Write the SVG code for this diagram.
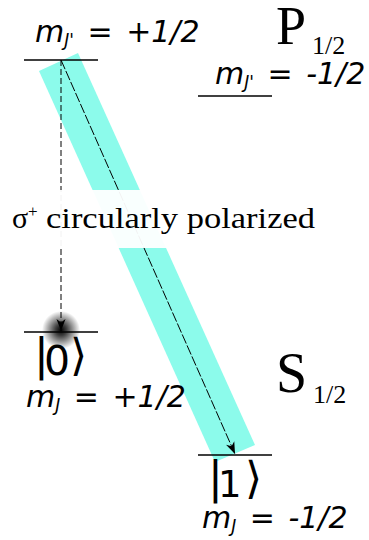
<svg xmlns="http://www.w3.org/2000/svg" width="369" height="540" viewBox="0 0 369 540">
<style>
.lvl{stroke:#000;stroke-width:1.6;fill:none}
.mj{font-family:"DejaVu Sans",Verdana,sans-serif;font-style:italic;font-size:30px;word-spacing:4px;fill:#000;white-space:pre}
.sub{font-size:17px}
.ket{font-family:"DejaVu Sans",sans-serif;fill:#000}
.serif{font-family:"Liberation Serif","Times New Roman",serif;fill:#000}
.dash{stroke:#000;stroke-width:1;fill:none}
</style>
<defs>
<marker id="arr" markerUnits="userSpaceOnUse" markerWidth="16" markerHeight="12" viewBox="-13 -6 14 12" refX="0" refY="0" orient="auto">
<path d="M0,0 L-12,-4.5 L-8.5,0 L-12,4.5 Z" fill="#000"/>
</marker>
<radialGradient id="glow">
<stop offset="0" stop-color="#000" stop-opacity="1"/>
<stop offset="0.3" stop-color="#000" stop-opacity="0.75"/>
<stop offset="1" stop-color="#000" stop-opacity="0"/>
</radialGradient>
</defs>

<g id="laser-beam">
<polygon points="39,71 78,53 255,445 215,462" fill="#8cfbeb"/>
</g>

<g id="connectors">
<line class="dash" x1="61" y1="60" x2="61" y2="331" stroke-dasharray="6,3" marker-end="url(#arr)"/>
<line class="dash" x1="61" y1="60" x2="235" y2="454" stroke-dasharray="10,2" marker-end="url(#arr)"/>
</g>

<g id="label-polarization">
<rect x="0" y="190" width="369" height="58" fill="#fff" fill-opacity="0.95"/>
<text class="serif" x="12" y="228" font-size="30">σ</text>
<text class="serif" x="28" y="217" font-size="17">+</text>
<text class="serif" x="46" y="228" font-size="30" textLength="269" lengthAdjust="spacingAndGlyphs">circularly polarized</text>
</g>

<g id="P-plus">
<line class="lvl" x1="24" y1="60" x2="98" y2="60"/>
<text class="mj" x="35" y="42">m<tspan class="sub" dy="4">J'</tspan><tspan dy="-4"> = +1/2</tspan></text>
</g>

<g id="P-minus">
<line class="lvl" x1="198" y1="96" x2="272" y2="96"/>
<text class="mj" x="215" y="84">m<tspan class="sub" dy="4">J'</tspan><tspan dy="-4"> = -1/2</tspan></text>
</g>

<g id="P-term">
<text class="serif" x="276" y="44" font-size="54">P</text>
<text class="serif" x="312" y="54" font-size="26">1/2</text>
</g>

<g id="S-term">
<text class="serif" x="276" y="392" font-size="56">S</text>
<text class="serif" x="313" y="403" font-size="26">1/2</text>
</g>

<g id="state-0">
<circle cx="61" cy="330" r="19" fill="url(#glow)"/>
<line class="lvl" x1="24" y1="332" x2="98" y2="332"/>
<text class="ket" x="34" y="370" font-size="44">|</text>
<text class="ket" x="44" y="375" font-size="41">0</text>
<text class="ket" x="70" y="370" font-size="44">⟩</text>
<text class="mj" x="26" y="407">m<tspan class="sub" dy="4">J</tspan><tspan dy="-4"> = +1/2</tspan></text>
</g>

<g id="state-1">
<line class="lvl" x1="198" y1="455" x2="272" y2="455"/>
<text class="ket" x="208" y="493" font-size="44">|</text>
<text class="ket" x="218" y="497" font-size="37">1</text>
<text class="ket" x="245" y="493" font-size="44">⟩</text>
<text class="mj" x="202" y="528">m<tspan class="sub" dy="4">J</tspan><tspan dy="-4"> = -1/2</tspan></text>
</g>
</svg>
